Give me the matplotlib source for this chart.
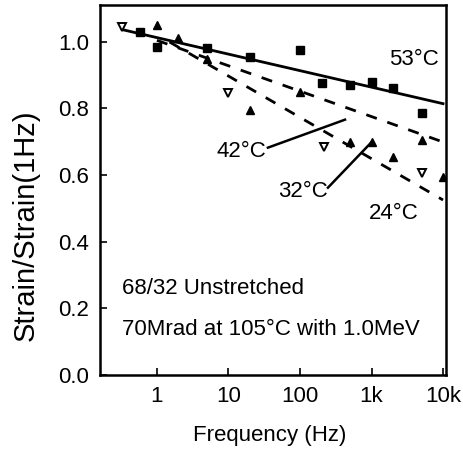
import numpy as np
import matplotlib
matplotlib.use("Agg")
import matplotlib.pyplot as plt

plt.rcParams['font.family'] = ['Liberation Sans', 'DejaVu Sans']

# ---- data ----
f_53 = [0.58, 1, 5, 20, 100, 200, 500, 1000, 2000, 5000]
r_53 = [1.03, 0.985, 0.98, 0.955, 0.976, 0.877, 0.87, 0.88, 0.86, 0.787]

f_42 = [1, 2, 5, 100, 5000]
r_42 = [1.05, 1.01, 0.949, 0.85, 0.706]

f_32 = [20, 500, 1000, 2000, 10000]
r_32 = [0.796, 0.70, 0.70, 0.655, 0.595]

f_24 = [0.33, 10, 220, 5000]
r_24 = [1.045, 0.847, 0.685, 0.607]

# fitted lines (endpoints)
fit_53_f = [0.33, 10000]
fit_53_r = [1.036, 0.814]
fit_42_f = [1, 10000]
fit_42_r = [1.004, 0.699]
fit_32_f = [1.5, 10000]
fit_32_r = [0.999, 0.525]

xticks = [1, 10, 100, 1000, 10000]
xticklabels = ["1", "10", "100", "1k", "10k"]
yticks = [0.0, 0.2, 0.4, 0.6, 0.8, 1.0]
yticklabels = ["0.0", "0.2", "0.4", "0.6", "0.8", "1.0"]

fig = plt.figure(figsize=(4.64, 4.5), dpi=100)
ax = fig.add_axes([100/464, 75/450, 346/464, 370/450])
ax.set_xscale('log')
ax.set_xlim(0.16, 11000)
ax.set_ylim(0, 1.11)

ax.plot(fit_53_f, fit_53_r, color='black', lw=2.0)
ax.plot(fit_42_f, fit_42_r, color='black', lw=2.0, dashes=(4, 4))
ax.plot(fit_32_f, fit_32_r, color='black', lw=2.0, dashes=(4, 4))

ax.plot(f_53, r_53, 's', color='black', ms=5.5, ls='none')
ax.plot(f_42, r_42, '^', color='black', ms=6, ls='none')
ax.plot(f_32, r_32, '^', color='black', ms=6, ls='none')
ax.plot(f_24, r_24, 'v', mfc='white', mec='black', mew=1.4, ms=5.5, ls='none')

fs = 16
ax.text(3930, 0.946, "53°C", ha='center', va='center', fontsize=fs)
ax.text(15.4, 0.67, "42°C", ha='center', va='center', fontsize=fs)
ax.text(110, 0.55, "32°C", ha='center', va='center', fontsize=fs)
ax.text(2065, 0.486, "24°C", ha='center', va='center', fontsize=fs)

ax.plot([35.6, 426], [0.682, 0.766], color='black', lw=1.8)
ax.plot([246, 1016], [0.562, 0.70], color='black', lw=1.8)

ax.text(0.064, 0.235, "68/32 Unstretched", transform=ax.transAxes,
        ha='left', va='center', fontsize=fs)
ax.text(0.064, 0.124, "70Mrad at 105°C with 1.0MeV", transform=ax.transAxes,
        ha='left', va='center', fontsize=fs)

ax.set_xticks(xticks)
ax.set_xticklabels(xticklabels)
ax.xaxis.set_minor_locator(matplotlib.ticker.NullLocator())
ax.set_yticks(yticks)
ax.set_yticklabels(yticklabels)
ax.tick_params(direction='in', length=5, width=1.2, labelsize=fs, pad=8)

for s in ax.spines.values():
    s.set_linewidth(1.8)

fig.text(270/464, 1 - 436/450, "Frequency (Hz)", ha='center', va='center', fontsize=fs)
fig.text(26/464, 0.5, "Strain/Strain(1Hz)", ha='center', va='center',
         rotation=90, fontsize=21)

fig.savefig("out.png", dpi=100)
